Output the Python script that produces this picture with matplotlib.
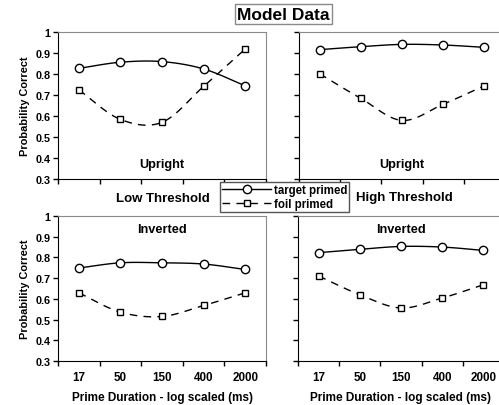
import numpy as np
import matplotlib.pyplot as plt
from matplotlib.lines import Line2D

plt.rcParams['font.family'] = ['Liberation Sans', 'DejaVu Sans']
plt.rcParams['font.weight'] = 'bold'

# 데이터
durations = ['17', '50', '150', '400', '2000']
y_ticks = [0.3, 0.4, 0.5, 0.6, 0.7, 0.8, 0.9, 1.0]
y_tick_labels = ['0.3', '0.4', '0.5', '0.6', '0.7', '0.8', '0.9', '1']

low_upright_target = [0.827, 0.856, 0.859, 0.824, 0.744]
low_upright_foil = [0.724, 0.584, 0.570, 0.741, 0.919]
high_upright_target = [0.916, 0.930, 0.941, 0.938, 0.927]
high_upright_foil = [0.801, 0.684, 0.579, 0.656, 0.744]
low_inverted_target = [0.749, 0.774, 0.774, 0.768, 0.742]
low_inverted_foil = [0.629, 0.536, 0.515, 0.568, 0.629]
high_inverted_target = [0.823, 0.839, 0.853, 0.850, 0.834]
high_inverted_foil = [0.710, 0.620, 0.556, 0.604, 0.668]

W, H = 499, 406
fig = plt.figure(figsize=(W / 100, H / 100), dpi=100)


def px_axes(x0, y0, x1, y1):
    # 픽셀 좌표로 축 배치
    return fig.add_axes([x0 / W, 1 - y1 / H, (x1 - x0) / W, (y1 - y0) / H])


def smooth(x, y, n=20):
    # Catmull-Rom 곡선 (엑셀 스무딩 선 흉내)
    x = np.asarray(x, float)
    y = np.asarray(y, float)
    px = np.concatenate([[2 * x[0] - x[1]], x, [2 * x[-1] - x[-2]]])
    py = np.concatenate([[2 * y[0] - y[1]], y, [2 * y[-1] - y[-2]]])
    xs, ys = [], []
    t = np.linspace(0, 1, n)
    for i in range(1, len(px) - 2):
        for p, out in ((px, xs), (py, ys)):
            p0, p1, p2, p3 = p[i - 1], p[i], p[i + 1], p[i + 2]
            seg = 0.5 * ((2 * p1) + (-p0 + p2) * t
                         + (2 * p0 - 5 * p1 + 4 * p2 - p3) * t ** 2
                         + (-p0 + 3 * p1 - 3 * p2 + p3) * t ** 3)
            out.extend(seg)
    return np.array(xs), np.array(ys)


def panel(ax, target, foil, label, label_y, show_x, show_y):
    x = np.arange(len(durations))
    sx, sy = smooth(x, target)
    ax.plot(sx, sy, color='black', lw=1)
    ax.plot(x, target, 'o', ms=6, mfc='white', mec='black', mew=1)
    sx, sy = smooth(x, foil)
    ax.plot(sx, sy, color='black', lw=1, dashes=(5.5, 4.5))
    ax.plot(x, foil, 's', ms=5, mfc='white', mec='black', mew=1)
    ax.set_xlim(-0.5, len(durations) - 0.5)
    ax.set_ylim(0.3, 1.0)
    ax.set_yticks(y_ticks)
    ax.set_xticks(np.arange(len(durations) + 1) - 0.5)
    ax.set_xticks(x, minor=True)
    ax.tick_params(axis='both', which='major', direction='out', length=3.5, width=1)
    ax.tick_params(axis='x', which='major', labelbottom=False)
    ax.tick_params(axis='x', which='minor', length=0, labelsize=8.4, pad=7)
    ax.tick_params(axis='y', labelsize=7.8, pad=2)
    if show_x:
        ax.set_xticklabels(durations, minor=True, fontweight='bold')
        ax.set_xlabel('Prime Duration - log scaled (ms)', fontsize=8.5,
                      fontweight='bold', labelpad=6)
    else:
        ax.set_xticklabels([], minor=True)
    if show_y:
        ax.set_yticklabels(y_tick_labels, fontweight='bold')
        ax.set_ylabel('Probability Correct', fontsize=7.9, fontweight='bold', labelpad=4)
    else:
        ax.set_yticklabels([])
    for s in ('top', 'right'):
        ax.spines[s].set_color('#8a8a8a')
    for s in ('left', 'bottom'):
        ax.spines[s].set_color('black')
    ax.text(0.5, label_y, label, transform=ax.transAxes, ha='center', va='center',
            fontsize=9.2, fontweight='bold')


ax1 = px_axes(58, 33, 266, 180)
ax2 = px_axes(299, 33, 505, 180)
ax3 = px_axes(58, 217, 266, 362)
ax4 = px_axes(298, 217, 504, 362)

panel(ax1, low_upright_target, low_upright_foil, 'Upright', 0.10, False, True)
panel(ax2, high_upright_target, high_upright_foil, 'Upright', 0.10, False, False)
panel(ax3, low_inverted_target, low_inverted_foil, 'Inverted', 0.91, True, True)
panel(ax4, high_inverted_target, high_inverted_foil, 'Inverted', 0.91, True, False)

fig.text(163 / W, 1 - 199 / H, 'Low Threshold', ha='center', va='center',
         fontsize=9.5, fontweight='bold')
fig.text(404 / W, 1 - 198 / H, 'High Threshold', ha='center', va='center',
         fontsize=9.5, fontweight='bold')

fig.text(283.5 / W, 1 - 15 / H, 'Model Data', ha='center', va='center',
         fontsize=12.5, fontweight='bold',
         bbox=dict(boxstyle='square,pad=0.15', fc='white', ec='#8a8a8a', lw=1))

handles = [
    Line2D([], [], color='black', lw=1, marker='o', ms=6, mfc='white', mec='black'),
    Line2D([], [], color='black', lw=1, dashes=(5.5, 4.5), marker='s', ms=5,
           mfc='white', mec='black'),
]
leg = fig.legend(handles, ['target primed', 'foil primed'], loc='center',
                 bbox_to_anchor=(284.5 / W, 1 - 198 / H), fontsize=8.3,
                 frameon=True, fancybox=False, edgecolor='#555555',
                 framealpha=1, handlelength=4.3, handletextpad=0.2,
                 borderpad=0.2, labelspacing=0.15, borderaxespad=0,
                 numpoints=1)
leg.get_frame().set_linewidth(1)
for t in leg.get_texts():
    t.set_fontweight('bold')

fig.savefig('out.png', dpi=100)
